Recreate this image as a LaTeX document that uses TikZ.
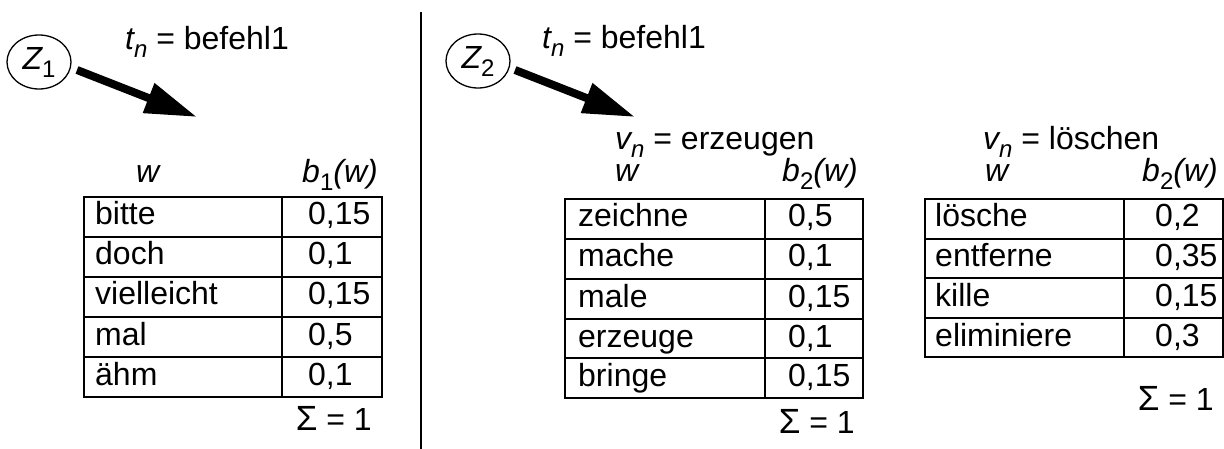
\documentclass[tikz,border=0pt]{standalone}
\usepackage{fontspec}
\setmainfont{Liberation Sans}
\usetikzlibrary{arrows.meta,shapes.geometric}
\newcommand{\lowsub}[1]{\raisebox{-0.25em}{\fontsize{24}{24}\selectfont #1}}
\newcommand{\itl}[1]{{\itshape #1}}
\newcommand{\sumone}{{\fontsize{35}{35}\selectfont Σ} = 1}
\begin{document}
\begin{tikzpicture}[x=1pt,y=-1pt,
  every node/.style={inner sep=0pt, font=\fontsize{32}{38}\selectfont},
  lbl/.style={anchor=base west},
  rlbl/.style={anchor=base east},
  gridline/.style={line width=1.5pt},
  bigarrow/.style={line width=8pt, -{Triangle[length=52pt,width=30pt]}},
  zell/.style={draw, ellipse, line width=1.3pt, minimum width=64pt, minimum height=54pt}]
\useasboundingbox (0,0) rectangle (1224,449);

% divider
\coordinate (dtop) at (421,12);
\coordinate (dbot) at (421,449);
\draw[line width=1.5pt] (dtop) -- (dbot);

% ---------- left part ----------
\node[zell] (z1) at (39,62) {\itl{Z}\lowsub{1}};
\node[lbl] (t1) at (125,50) {\itl{t}\lowsub{\itshape n} = befehl1};
\coordinate (a1s) at (77,70);
\coordinate (a1e) at (197,117);
\draw[bigarrow] (a1s) -- (a1e);

\node[lbl] (h1w) at (136,183) {\itl{w}};
\node[rlbl] (h1b) at (378,183) {\itl{b}\lowsub{1}\itl{(w)}};
\draw[gridline] (84,197) rectangle (382,397);
\draw[gridline] (282,197) -- (282,397);
\foreach \y in {237,277,317,357} \draw[gridline] (84,\y) -- (382,\y);
\node[lbl] (w11) at (95,225) {bitte};
\node[lbl] (w12) at (95,265) {doch};
\node[lbl] (w13) at (95,305) {vielleicht};
\node[lbl] (w14) at (95,345) {mal};
\node[lbl] (w15) at (95,385) {ähm};
\node[lbl] (p11) at (308,225) {0,15};
\node[lbl] (p12) at (308,265) {0,1};
\node[lbl] (p13) at (308,305) {0,15};
\node[lbl] (p14) at (308,345) {0,5};
\node[lbl] (p15) at (308,385) {0,1};
\node[rlbl] (s1) at (372,430) {\sumone};

% ---------- right part ----------
\node[zell] (z2) at (478,61) {\itl{Z}\lowsub{2}};
\node[lbl] (t2) at (542,49) {\itl{t}\lowsub{\itshape n} = befehl1};
\coordinate (a2s) at (515,70);
\coordinate (a2e) at (635,117);
\draw[bigarrow] (a2s) -- (a2e);

% table 2
\node[lbl] (v2) at (615,150) {\itl{v}\lowsub{\itshape n} = erzeugen};
\node[lbl] (h2w) at (615,182) {\itl{w}};
\node[rlbl] (h2b) at (858,182) {\itl{b}\lowsub{2}\itl{(w)}};
\draw[gridline] (565,199) rectangle (863,398);
\draw[gridline] (765,199) -- (765,398);
\foreach \y in {239,279,319,358} \draw[gridline] (565,\y) -- (863,\y);
\node[lbl] (w21) at (578,227) {zeichne};
\node[lbl] (w22) at (578,267) {mache};
\node[lbl] (w23) at (578,307) {male};
\node[lbl] (w24) at (578,347) {erzeuge};
\node[lbl] (w25) at (578,386) {bringe};
\node[lbl] (p21) at (788,227) {0,5};
\node[lbl] (p22) at (788,267) {0,1};
\node[lbl] (p23) at (788,307) {0,15};
\node[lbl] (p24) at (788,347) {0,1};
\node[lbl] (p25) at (788,386) {0,15};
\node[rlbl] (s2) at (855,433) {\sumone};

% table 3
\node[lbl] (v3) at (983,150) {\itl{v}\lowsub{\itshape n} = löschen};
\node[lbl] (h3w) at (985,182) {\itl{w}};
\node[rlbl] (h3b) at (1218,182) {\itl{b}\lowsub{2}\itl{(w)}};
\draw[gridline] (925,199) rectangle (1223,357);
\draw[gridline] (1124,199) -- (1124,357);
\foreach \y in {239,278,318} \draw[gridline] (925,\y) -- (1223,\y);
\node[lbl] (w31) at (935,227) {lösche};
\node[lbl] (w32) at (935,266) {entferne};
\node[lbl] (w33) at (935,306) {kille};
\node[lbl] (w34) at (935,346) {eliminiere};
\node[lbl] (p31) at (1155,227) {0,2};
\node[lbl] (p32) at (1155,266) {0,35};
\node[lbl] (p33) at (1155,306) {0,15};
\node[lbl] (p34) at (1155,346) {0,3};
\node[rlbl] (s3) at (1214,410) {\sumone};
\end{tikzpicture}
\end{document}
